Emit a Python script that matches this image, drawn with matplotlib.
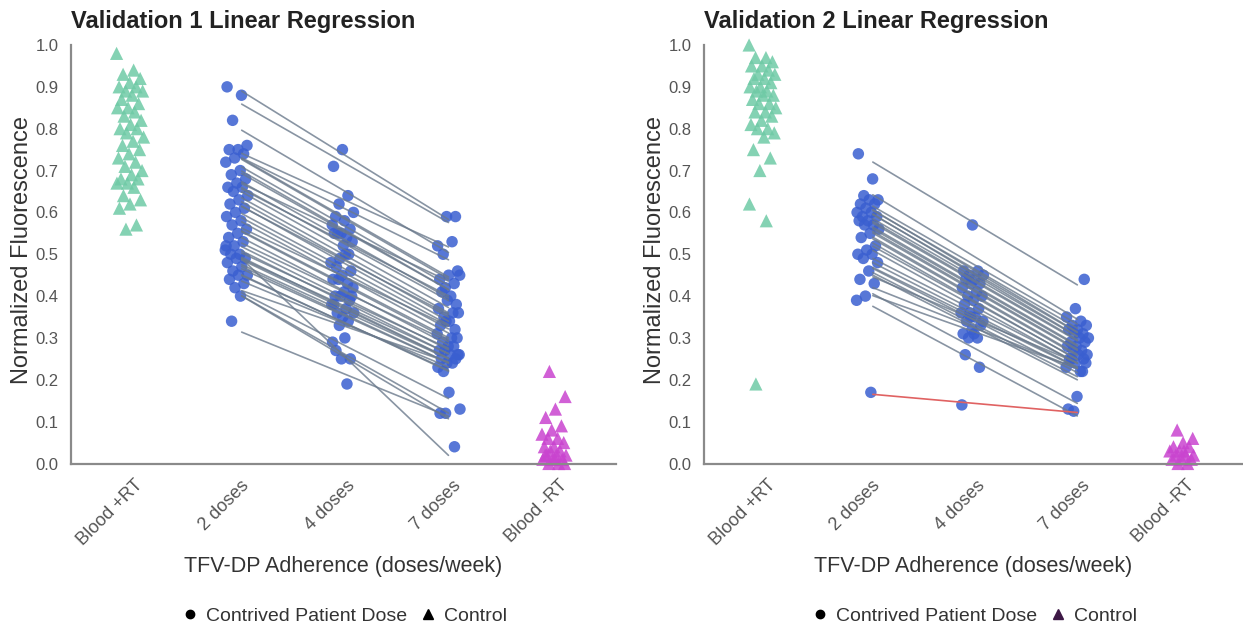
import numpy as np
import matplotlib
matplotlib.use("Agg")
import matplotlib.pyplot as plt
from matplotlib.lines import Line2D
import matplotlib.transforms as mtrans

plt.rcParams['font.family'] = ['Liberation Sans', 'DejaVu Sans']

categories = ["Blood +RT", "2 doses", "4 doses", "7 doses", "Blood -RT"]
doses = [2, 4, 7]
titles = ["Validation 1 Linear Regression", "Validation 2 Linear Regression"]

# ---------------- Validation 1 ----------------
v1_pos_ctrl = [0.98, 0.94, 0.93, 0.92, 0.91, 0.90, 0.90, 0.89, 0.89, 0.88, 0.87, 0.86,
               0.85, 0.85, 0.84, 0.83, 0.82, 0.81, 0.80, 0.80, 0.79, 0.78, 0.77, 0.76,
               0.75, 0.74, 0.73, 0.72, 0.71, 0.70, 0.69, 0.68, 0.68, 0.67, 0.67, 0.66,
               0.64, 0.63, 0.62, 0.61, 0.57, 0.56]
v1_neg_ctrl = [0.22, 0.16, 0.13, 0.11, 0.09, 0.08, 0.07, 0.06, 0.06, 0.05, 0.04, 0.04,
               0.03, 0.03, 0.02, 0.02, 0.02, 0.01, 0.01, 0.01, 0.00, 0.00, 0.00, 0.01,
               0.02]
v1_dose2 = [0.90, 0.88, 0.82, 0.76, 0.75, 0.75, 0.74, 0.73, 0.72, 0.70, 0.69, 0.68,
            0.67, 0.66, 0.66, 0.65, 0.64, 0.63, 0.62, 0.61, 0.60, 0.59, 0.58, 0.57,
            0.56, 0.55, 0.54, 0.53, 0.52, 0.51, 0.50, 0.50, 0.49, 0.49, 0.48, 0.47,
            0.46, 0.45, 0.45, 0.44, 0.43, 0.42, 0.52, 0.40, 0.34]
v1_dose4 = [0.75, 0.71, 0.64, 0.62, 0.60, 0.58, 0.59, 0.56, 0.55, 0.57, 0.54, 0.55,
            0.53, 0.52, 0.55, 0.50, 0.49, 0.48, 0.50, 0.47, 0.46, 0.45, 0.44, 0.43,
            0.44, 0.42, 0.41, 0.40, 0.39, 0.40, 0.38, 0.37, 0.36, 0.40, 0.35, 0.38,
            0.34, 0.33, 0.36, 0.30, 0.27, 0.25, 0.25, 0.29, 0.19]
v1_dose7 = [0.59, 0.59, 0.52, 0.53, 0.50, 0.46, 0.45, 0.44, 0.43, 0.42, 0.45, 0.40,
            0.41, 0.38, 0.39, 0.37, 0.36, 0.35, 0.36, 0.34, 0.33, 0.32, 0.34, 0.31,
            0.30, 0.29, 0.30, 0.28, 0.27, 0.28, 0.27, 0.26, 0.26, 0.25, 0.25, 0.24,
            0.23, 0.24, 0.22, 0.26, 0.17, 0.12, 0.04, 0.12, 0.13]
v1_flag = []  # patients whose regression line is highlighted

# ---------------- Validation 2 ----------------
v2_pos_ctrl = [1.00, 0.97, 0.97, 0.96, 0.95, 0.95, 0.94, 0.93, 0.93, 0.92, 0.92, 0.91,
               0.90, 0.90, 0.89, 0.89, 0.88, 0.88, 0.87, 0.86, 0.86, 0.85, 0.84, 0.84,
               0.83, 0.82, 0.81, 0.80, 0.80, 0.79, 0.78, 0.75, 0.73, 0.70, 0.62, 0.58,
               0.19]
v2_neg_ctrl = [0.08, 0.06, 0.05, 0.04, 0.04, 0.03, 0.03, 0.02, 0.02, 0.01, 0.01, 0.01,
               0.00, 0.00, 0.02, 0.03]
v2_dose2 = [0.74, 0.68, 0.64, 0.63, 0.63, 0.62, 0.62, 0.61, 0.60, 0.60, 0.59, 0.59,
            0.58, 0.58, 0.57, 0.57, 0.56, 0.55, 0.54, 0.52, 0.51, 0.50, 0.50, 0.49,
            0.48, 0.46, 0.44, 0.43, 0.40, 0.39, 0.17]
v2_dose4 = [0.57, 0.46, 0.46, 0.45, 0.45, 0.44, 0.44, 0.43, 0.43, 0.42, 0.41, 0.40,
            0.40, 0.39, 0.38, 0.37, 0.36, 0.36, 0.35, 0.34, 0.33, 0.32, 0.31, 0.30,
            0.30, 0.34, 0.31, 0.26, 0.23, 0.35, 0.14]
v2_dose7 = [0.44, 0.37, 0.35, 0.34, 0.33, 0.33, 0.32, 0.32, 0.31, 0.31, 0.30, 0.30,
            0.29, 0.29, 0.28, 0.28, 0.27, 0.27, 0.26, 0.26, 0.25, 0.25, 0.24, 0.23,
            0.22, 0.25, 0.24, 0.16, 0.13, 0.22, 0.125]
v2_flag = [30]

datasets = [
    (v1_pos_ctrl, v1_dose2, v1_dose4, v1_dose7, v1_neg_ctrl, v1_flag),
    (v2_pos_ctrl, v2_dose2, v2_dose4, v2_dose7, v2_neg_ctrl, v2_flag),
]

GREEN = "#6fcaa6"
BLUE = "#3a5fd0"
MAGENTA = "#c944cf"
LINE = "#6b7a8c"
RED = "#e06262"
AXC = "#8a8a8a"
TXT = "#555555"


def jitter(n, w, phase=0.0):
    return ((np.arange(n) * 0.6180339 + phase) % 1.0 - 0.5) * 2 * w


fig = plt.figure(figsize=(12.43, 6.25), dpi=100)
W, H = 1243, 625
axes_px = [(71, 616), (704, 1243)]
top_px, bot_px = 45, 463.5

legend_tri_colors = ["black", "#3d1845"]

for k, (pos, d2, d4, d7, neg, flag) in enumerate(datasets):
    l, r = axes_px[k]
    ax = fig.add_axes([l / W, 1 - bot_px / H, (r - l) / W, (bot_px - top_px) / H])
    ax.set_xlim(-0.56, 4.58)
    ax.set_ylim(0, 1.0)

    # regression lines
    for i in range(len(d2)):
        yv = [d2[i], d4[i], d7[i]]
        slope, icpt = np.polyfit(doses, yv, 1)
        ya = slope * 2 + icpt
        yb = slope * 7 + icpt
        c = RED if i in flag else LINE
        ax.plot([1.05, 3.0], [ya, yb], color=c, lw=1.2, alpha=0.8 if i not in flag else 1.0,
                zorder=3 if i not in flag else 4, solid_capstyle='round')

    # controls
    ax.scatter(0 + jitter(len(pos), 0.13), pos, marker='^', s=90, color=GREEN,
               alpha=0.85, edgecolors='none', zorder=2, clip_on=False)
    ax.scatter(4 + jitter(len(neg), 0.12, 0.3), neg, marker='^', s=90, color=MAGENTA,
               alpha=0.85, edgecolors='none', zorder=2, clip_on=False)
    # patient doses
    for xi, vals, ph in [(1, d2, 0.1), (2, d4, 0.5), (3, d7, 0.8)]:
        ax.scatter(xi + jitter(len(vals), 0.11, ph), vals, marker='o', s=68, color=BLUE,
                   alpha=0.85, edgecolors='none', zorder=2, clip_on=False)

    for s in ['top', 'right']:
        ax.spines[s].set_visible(False)
    for s in ['left', 'bottom']:
        ax.spines[s].set_color(AXC)
        ax.spines[s].set_linewidth(1.6)

    ax.set_yticks(np.arange(0, 1.01, 0.1))
    ax.set_yticklabels([f"{v:.1f}" for v in np.arange(0, 1.01, 0.1)])
    ax.tick_params(axis='y', length=0, pad=9, labelsize=12, labelcolor=TXT)
    ax.set_xticks(range(5))
    ax.set_xticklabels(categories, rotation=45, ha='right', va='center',
                       rotation_mode='anchor')
    ax.tick_params(axis='x', length=0, pad=14, labelsize=13, labelcolor=TXT)
    off = mtrans.ScaledTranslation(10 / 100, 0, fig.dpi_scale_trans)
    for lab in ax.get_xticklabels():
        lab.set_transform(lab.get_transform() + off)

    ax.text(0.0, 1.055, titles[k], transform=ax.transAxes, ha='left', va='center',
            fontsize=17, fontweight='bold', color='#222222')
    ax.text(-0.09, 0.51, "Normalized Fluorescence", transform=ax.transAxes,
            rotation=90, ha='center', va='center', fontsize=17, color='#333333')
    ax.text(0.5, -0.245, "TFV-DP Adherence (doses/week)", transform=ax.transAxes,
            ha='center', va='center', fontsize=15.5, color='#333333')

    handles = [Line2D([], [], marker='o', ls='none', color='black', markersize=6),
               Line2D([], [], marker='^', ls='none', color=legend_tri_colors[k], markersize=7)]
    ax.legend(handles, ["Contrived Patient Dose", "Control"], loc='center',
              bbox_to_anchor=(0.5, -0.365), ncol=2, frameon=False, fontsize=14,
              handletextpad=0.3, columnspacing=0.6, handlelength=1.0,
              labelcolor='#333333')

fig.savefig("out.png", dpi=100)
